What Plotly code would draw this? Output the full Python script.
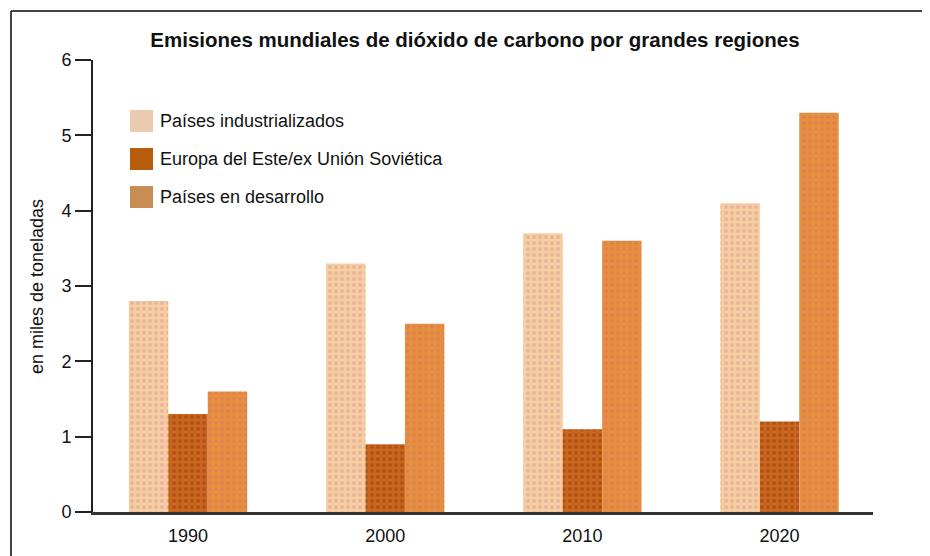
import plotly.graph_objects as go

years = ["1990", "2000", "2010", "2020"]
series_names = ["Países industrializados", "Europa del Este/ex Unión Soviética", "Países en desarrollo"]
industrializados = [2.8, 3.3, 3.7, 4.1]
europa_este = [1.3, 0.9, 1.1, 1.2]
desarrollo = [1.6, 2.5, 3.6, 5.3]
y_ticks = [0, 1, 2, 3, 4, 5, 6]

FONT = "Liberation Sans Narrow, Arial Narrow, Liberation Sans, Arial, sans-serif"

bar_styles = [
    dict(color="#F6CE9E", fg="#DC98A8"),
    dict(color="#CA661C", fg="#96401A"),
    dict(color="#E4913D", fg="#E26E66"),
]
legend_colors = ["#EACBB0", "#B65C0C", "#C88D55"]

fig = go.Figure()
for name, vals, st in zip(series_names, [industrializados, europa_este, desarrollo], bar_styles):
    fig.add_trace(go.Bar(
        x=years, y=vals, name=name, showlegend=False,
        marker=dict(color=st["color"], line=dict(width=0),
                    pattern=dict(shape=".", fgcolor=st["fg"], size=6, solidity=0.35)),
        hoverinfo="x+y+name",
    ))

OFF = 8  # page body margin offset
W, H = 930, 556
L, R, T, B = 93 - OFF, 57 + OFF, 60 - OFF, 44 + OFF
pw, ph = W - L - R, H - T - B

def px(x):
    return (x - OFF - L) / pw

def py(y):
    return (H - B - (y - OFF)) / ph

shapes = [
    dict(type="line", xref="paper", yref="paper", x0=px(11), x1=px(11), y0=py(580), y1=py(11),
         line=dict(color="#444", width=2)),
    dict(type="line", xref="paper", yref="paper", x0=px(11), x1=px(960), y0=py(11), y1=py(11),
         line=dict(color="#444", width=2)),
]
annotations = []
sw_y = [121, 159, 197]
for name, col, yc in zip(series_names, legend_colors, sw_y):
    shapes.append(dict(type="rect", xref="paper", yref="paper", x0=px(130), x1=px(153),
                       y0=py(yc + 11), y1=py(yc - 11), fillcolor=col, line=dict(width=0)))
    annotations.append(dict(xref="paper", yref="paper", x=px(158), y=py(yc), text=name,
                            showarrow=False, xanchor="left", yanchor="middle",
                            font=dict(family=FONT, size=18, color="#111")))
annotations.append(dict(xref="paper", yref="paper", x=px(37), y=py(287), text="en miles de toneladas",
                        textangle=-90, showarrow=False, xanchor="center", yanchor="middle",
                        font=dict(family=FONT, size=18, color="#111")))

fig.update_layout(
    width=W, height=H,
    margin=dict(l=L, r=R, t=T, b=B, pad=0),
    paper_bgcolor="white", plot_bgcolor="white",
    bargap=0.4, bargroupgap=0,
    title=dict(text="<b>Emisiones mundiales de dióxido de carbono por grandes regiones</b>",
               x=px(475), xref="paper", xanchor="center",
               y=1 - (40 - OFF) / H, yref="container", yanchor="middle",
               font=dict(family=FONT, size=20.5, color="#111")),
    shapes=shapes, annotations=annotations,
    font=dict(family=FONT, color="#111"),
)
fig.update_xaxes(type="category", range=[-0.482, 3.474], showgrid=False, showline=True,
                 linecolor="#333", linewidth=3, ticks="", tickfont=dict(family=FONT, size=18, color="#111"),
                 ticklabelstandoff=5)
fig.update_yaxes(range=[0, 6], tickvals=y_ticks, showgrid=False, showline=True, linecolor="#222",
                 linewidth=2, ticks="outside", ticklen=16, tickwidth=2, tickcolor="#222",
                 tickfont=dict(family=FONT, size=18, color="#111"), zeroline=False)

fig.write_html("out.html")
